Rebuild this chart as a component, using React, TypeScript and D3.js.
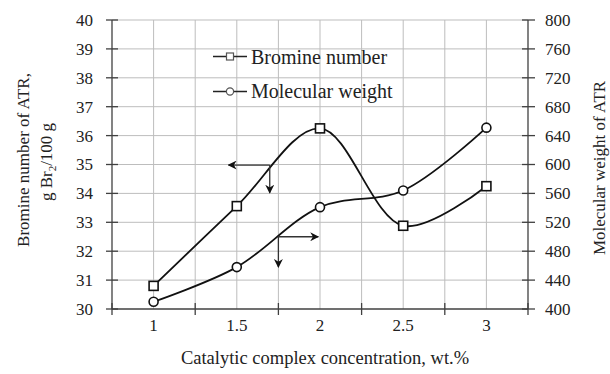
import React from 'react';
import * as d3 from 'd3';

// catalytic complex concentration, wt.%
const concentration = [1, 1.5, 2, 2.5, 3];
// bromine number, g Br2/100 g (left axis)
const bromineNumber = [30.8, 33.56, 36.25, 32.88, 34.25];
// molecular weight (right axis)
const molecularWeight = [410, 458, 541, 564, 651];

const leftTicks = [30, 31, 32, 33, 34, 35, 36, 37, 38, 39, 40];
const rightTicks = [400, 440, 480, 520, 560, 600, 640, 680, 720, 760, 800];
const xLabels = [1, 1.5, 2, 2.5, 3];
const xTickMarks = [0.75, 1.25, 1.75, 2.25, 2.75, 3.25];
const xGrid = [1, 1.25, 1.5, 1.75, 2, 2.25, 2.5, 2.75, 3];

const font = "'Liberation Serif', 'DejaVu Serif', 'Times New Roman', serif";

export default function App() {
  const w = 610;
  const h = 374;
  const left = 112;
  const right = 528;
  const top = 20;
  const bottom = 309;

  const x = d3.scaleLinear().domain([0.75, 3.25]).range([left, right]);
  const yL = d3.scaleLinear().domain([30, 40]).range([bottom, top]);
  const yR = d3.scaleLinear().domain([400, 800]).range([bottom, top]);

  const brLine = d3
    .line<number>()
    .x((d, i) => x(concentration[i]))
    .y((d) => yL(d))
    .curve(d3.curveCatmullRom.alpha(0.5));

  const mwLine = d3
    .line<number>()
    .x((d, i) => x(concentration[i]))
    .y((d) => yR(d))
    .curve(d3.curveCatmullRom.alpha(0.5));

  const axisColor = '#404040';
  const gridColor = '#bdbdbd';
  const txt = { fontFamily: font, fontSize: 17, fill: '#222' };

  return (
    <svg width={w} height={h} style={{ position: 'absolute', left: 0, top: 0, background: '#fff', fontFamily: font }}>
      <defs>
        <marker id="arr" viewBox="0 0 10 10" refX="9" refY="5" markerWidth="9" markerHeight="9" orient="auto-start-reverse" markerUnits="userSpaceOnUse">
          <path d="M0,0 L10,5 L0,10 L3,5 Z" fill="#111" />
        </marker>
      </defs>

      {/* grid */}
      {leftTicks.slice(1).map((t) => (
        <line key={'hg' + t} x1={left} x2={right} y1={yL(t)} y2={yL(t)} stroke={gridColor} strokeWidth={1} />
      ))}
      {xGrid.map((t) => (
        <line key={'vg' + t} x1={x(t)} x2={x(t)} y1={top} y2={bottom} stroke={gridColor} strokeWidth={1} />
      ))}

      {/* axes */}
      <line x1={left} x2={left} y1={top} y2={bottom} stroke={axisColor} strokeWidth={1.3} />
      <line x1={right} x2={right} y1={top} y2={bottom} stroke={axisColor} strokeWidth={1.3} />
      <line x1={left} x2={right} y1={bottom} y2={bottom} stroke={axisColor} strokeWidth={1.3} />

      {leftTicks.map((t) => (
        <g key={'lt' + t}>
          <line x1={left - 6} x2={left + 6} y1={yL(t)} y2={yL(t)} stroke={axisColor} strokeWidth={1.3} />
          <text x={93} y={yL(t)} dy="0.35em" textAnchor="end" style={txt}>
            {t}
          </text>
        </g>
      ))}
      {rightTicks.map((t) => (
        <g key={'rt' + t}>
          <line x1={right - 6} x2={right + 7} y1={yR(t)} y2={yR(t)} stroke={axisColor} strokeWidth={1.3} />
          <text x={545} y={yR(t)} dy="0.35em" textAnchor="start" style={txt}>
            {t}
          </text>
        </g>
      ))}
      {xTickMarks.map((t) => (
        <line key={'xt' + t} x1={x(t)} x2={x(t)} y1={bottom - 6} y2={bottom + 6} stroke={axisColor} strokeWidth={1.3} />
      ))}
      {xLabels.map((t) => (
        <text key={'xl' + t} x={x(t)} y={331} textAnchor="middle" style={txt}>
          {t}
        </text>
      ))}

      {/* titles */}
      <text x={325} y={364} textAnchor="middle" style={{ ...txt, fontSize: 18.5 }}>
        Catalytic complex concentration, wt.%
      </text>
      <text transform="translate(29,160) rotate(-90)" textAnchor="middle" style={txt}>
        Bromine number of ATR,
      </text>
      <text transform="translate(52,162) rotate(-90)" textAnchor="middle" style={txt}>
        g Br<tspan fontSize={11} dy="4">2</tspan>
        <tspan dy="-4">/100 g</tspan>
      </text>
      <text transform="translate(605,168) rotate(-90)" textAnchor="middle" style={txt}>
        Molecular weight of ATR
      </text>

      {/* curves */}
      <path d={brLine(bromineNumber) || ''} fill="none" stroke="#111" strokeWidth={1.8} />
      <path d={mwLine(molecularWeight) || ''} fill="none" stroke="#111" strokeWidth={1.8} />

      {bromineNumber.map((v, i) => (
        <rect key={'bs' + i} x={x(concentration[i]) - 4.5} y={yL(v) - 4.5} width={9} height={9} fill="#fff" stroke="#111" strokeWidth={1.6} />
      ))}
      {molecularWeight.map((v, i) => (
        <circle key={'mc' + i} cx={x(concentration[i])} cy={yR(v)} r={4.5} fill="#fff" stroke="#111" strokeWidth={1.6} />
      ))}

      {/* arrows pointing to the axis each curve belongs to */}
      <line x1={x(1.698)} y1={yL(34.98)} x2={x(1.45)} y2={yL(34.98)} stroke="#333" strokeWidth={1.3} markerEnd="url(#arr)" />
      <line x1={x(1.698)} y1={yL(34.98)} x2={x(1.698)} y2={yL(34.02)} stroke="#333" strokeWidth={1.3} markerEnd="url(#arr)" />
      <line x1={x(1.75)} y1={yR(500)} x2={x(1.99)} y2={yR(500)} stroke="#333" strokeWidth={1.3} markerEnd="url(#arr)" />
      <line x1={x(1.75)} y1={yR(500)} x2={x(1.75)} y2={yR(458)} stroke="#333" strokeWidth={1.3} markerEnd="url(#arr)" />

      {/* legend */}
      <line x1={213} x2={247} y1={56.5} y2={56.5} stroke="#222" strokeWidth={1.3} />
      <rect x={226.5} y={53} width={7} height={7} fill="#fff" stroke="#555" strokeWidth={1.2} />
      <text x={251} y={63.5} style={{ ...txt, fontSize: 20 }}>Bromine number</text>
      <line x1={213} x2={247} y1={91.5} y2={91.5} stroke="#222" strokeWidth={1.3} />
      <circle cx={230} cy={91.5} r={3.6} fill="#fff" stroke="#555" strokeWidth={1.2} />
      <text x={251} y={98} style={{ ...txt, fontSize: 20 }}>Molecular weight</text>
    </svg>
  );
}
